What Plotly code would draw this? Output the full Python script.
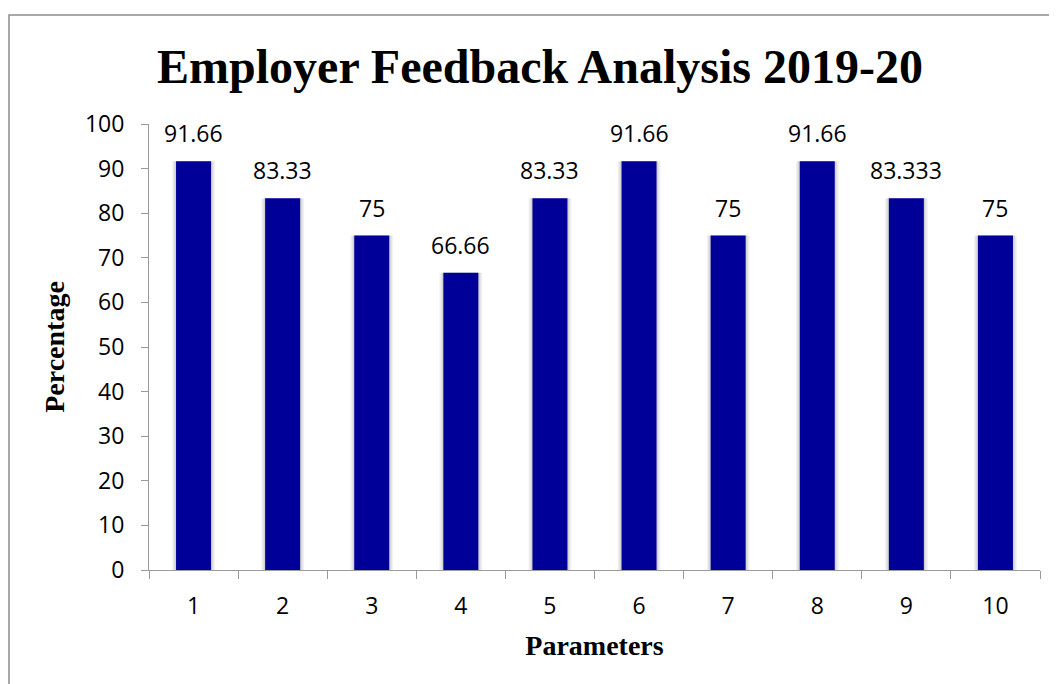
import plotly.graph_objects as go

parameters = ["1", "2", "3", "4", "5", "6", "7", "8", "9", "10"]
percentages = [91.66, 83.33, 75, 66.66, 83.33, 91.66, 75, 91.66, 83.333, 75]
value_labels = ["91.66", "83.33", "75", "66.66", "83.33", "91.66", "75", "91.66", "83.333", "75"]
y_ticks = [0, 10, 20, 30, 40, 50, 60, 70, 80, 90, 100]

# page body has an 8px margin: work in figure coordinates offset by 8
OFF = 8
W, H = 1057 - OFF, 684 - OFF
pw, ph = 891, 446
L, T = 149 - OFF, 124 - OFF
R, B = W - L - pw, H - T - ph

fig = go.Figure()

# soft shadow layers
for extra, alpha in [(0.09, 0.05), (0.06, 0.06), (0.03, 0.08)]:
    fig.add_trace(go.Bar(x=parameters, y=percentages, width=0.393 + extra,
                         marker=dict(color=f"rgba(0,0,0,{alpha})", line=dict(width=0)),
                         hoverinfo="skip", showlegend=False))

fig.add_trace(go.Bar(x=parameters, y=percentages, width=0.393,
                     marker=dict(color="#000099", line=dict(width=0)),
                     showlegend=False))

for i, (v, lab) in enumerate(zip(percentages, value_labels)):
    fig.add_annotation(x=i, y=v, text=lab, showarrow=False, yanchor="bottom",
                       yshift=10, font=dict(family="Open Sans", size=23, color="black"))

ax_color = "#9a9a9a"
font_tick = dict(family="Open Sans", size=23, color="black")

fig.update_layout(
    width=W, height=H,
    margin=dict(l=L, r=R, t=T, b=B, autoexpand=False),
    paper_bgcolor="white", plot_bgcolor="white",
    barmode="overlay",
    title=dict(text="<b>Employer Feedback Analysis 2019-20</b>",
               font=dict(family="Liberation Serif", size=48, color="black"),
               x=(540 - OFF) / W, xanchor="center", y=1 - (66 - OFF) / H, yanchor="middle",
               xref="container", yref="container"),
    xaxis=dict(type="category", range=[-0.5, 9.5], showgrid=False, showline=True,
               linecolor=ax_color, linewidth=1, ticks="outside", tickson="boundaries",
               ticklen=8, tickcolor=ax_color, tickfont=font_tick, ticklabelstandoff=15,
               title=dict(text="<b>Parameters</b>", standoff=15,
                          font=dict(family="Liberation Serif", size=28, color="black"))),
    yaxis=dict(range=[0, 100], tickvals=y_ticks, showgrid=False, showline=True,
               linecolor=ax_color, linewidth=1, ticks="outside", ticklen=7,
               tickcolor=ax_color, tickfont=font_tick, ticklabelstandoff=12,
               zeroline=False,
               title=dict(text="<b>Percentage</b>", standoff=12,
                          font=dict(family="Liberation Serif", size=28, color="black"))),
    shapes=[dict(type="rect", xref="paper", yref="paper",
                 x0=(9 - OFF - L) / pw, x1=(W + 20 - L) / pw,
                 y0=-(B + 20) / ph, y1=(T - (15 - OFF)) / ph + 1,
                 line=dict(color="#8c8c8c", width=1.5), layer="below")],
)

fig.write_html("out.html")
